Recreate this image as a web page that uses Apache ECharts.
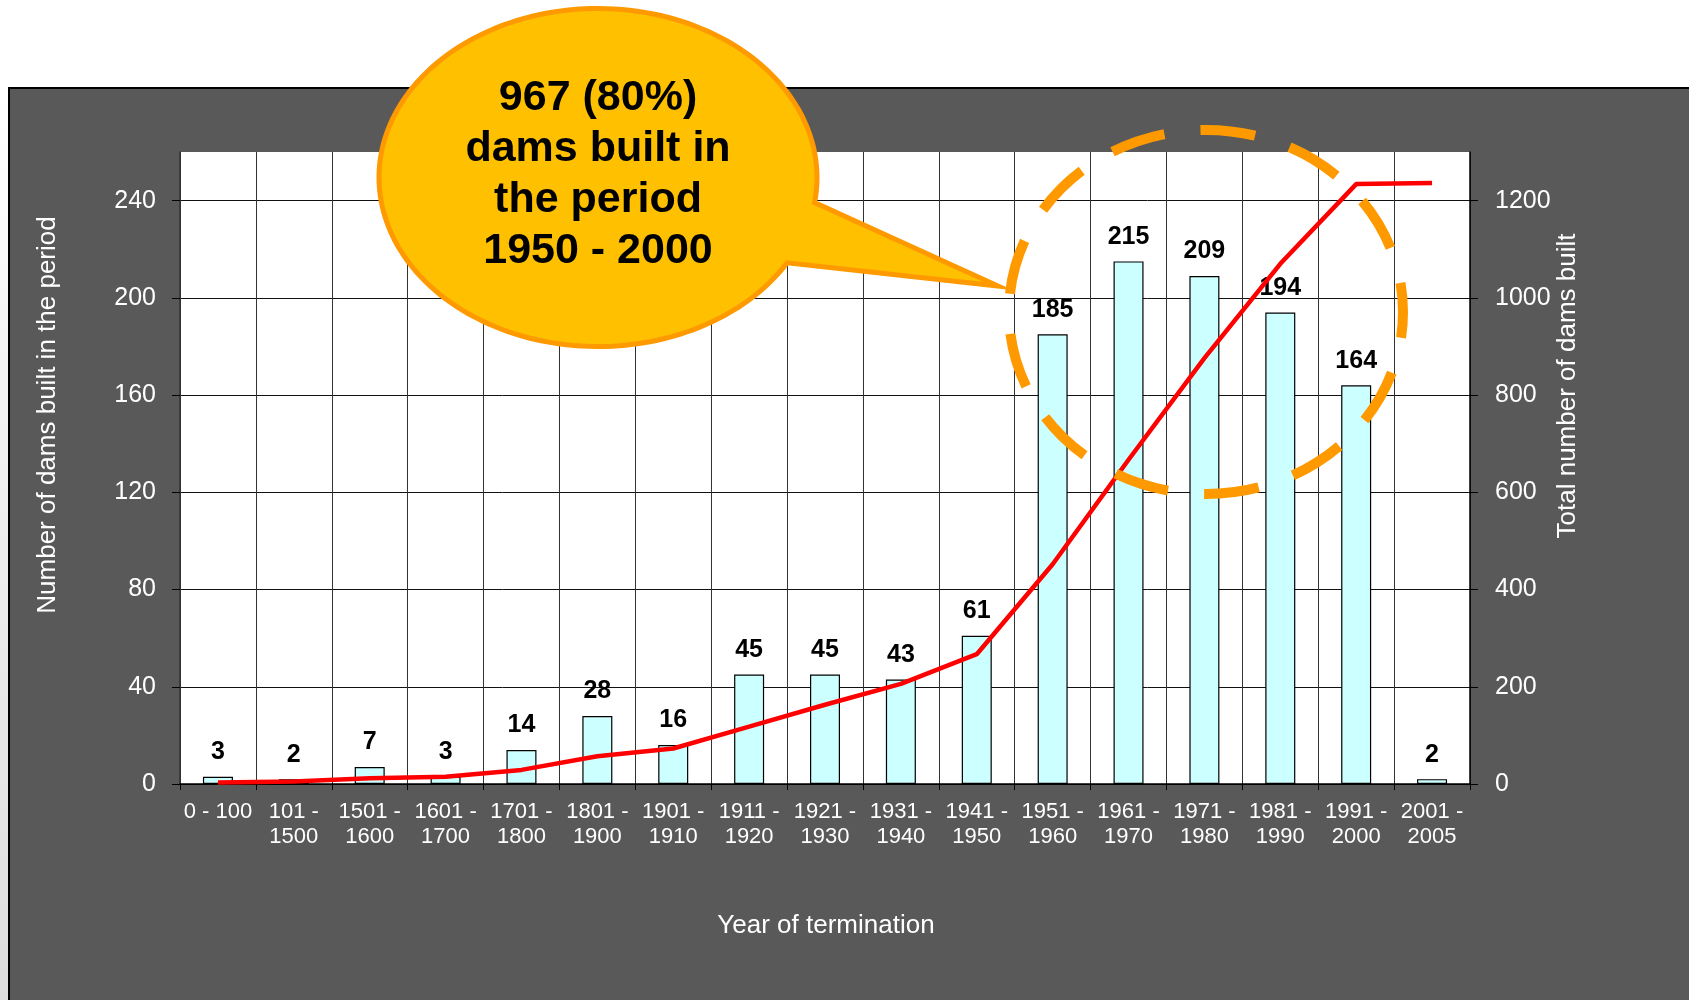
<!DOCTYPE html>
<html>
<head>
<meta charset="utf-8">
<title>Dams built per period</title>
<script src="https://cdn.jsdelivr.net/npm/echarts@6/dist/echarts.min.js"></script>
<style>
  html, body { margin: 0; padding: 0; background: #fff; }
  #chart { width: 1689px; height: 1000px; }
</style>
</head>
<body>
<div id="chart"></div>
<script>
  // periods (year of termination)
  const categories = ['0 - 100', '101 -\n1500', '1501 -\n1600', '1601 -\n1700', '1701 -\n1800',
    '1801 -\n1900', '1901 -\n1910', '1911 -\n1920', '1921 -\n1930', '1931 -\n1940', '1941 -\n1950',
    '1951 -\n1960', '1961 -\n1970', '1971 -\n1980', '1981 -\n1990', '1991 -\n2000', '2001 -\n2005']
  // dams built in each period (bars)
  const damsPerPeriod = [3, 2, 7, 3, 14, 28, 16, 45, 45, 43, 61, 185, 215, 209, 194, 164, 2]
  // running total of dams built (red line, right axis)
  const totalDams = [3, 5, 12, 15, 29, 57, 73, 118, 163, 206, 267, 452, 667, 876, 1070, 1234, 1236]
  // callout text
  const calloutLines = ['967 (80%)', 'dams built in', 'the period', '1950 - 2000']

  const FONT = "'Liberation Sans', Arial, Helvetica, sans-serif"

  let myChart = echarts.init(document.getElementById('chart'))

  // speech bubble outline: ellipse with a pointed tail to the right
  let bubble = []
  let bx = 598, by = 177.5, brx = 219, bry = 169
  let a0 = 30.3, a1 = 368.5
  for (let a = a0; a < a1; a += 2) {
    let r = a * Math.PI / 180
    bubble.push([bx + brx * Math.cos(r), by + bry * Math.sin(r)])
  }
  bubble.push([bx + brx * Math.cos(a1 * Math.PI / 180), by + bry * Math.sin(a1 * Math.PI / 180)])
  bubble.push([998, 286])

  let option = {
    animation: false,
    backgroundColor: '#ffffff',
    grid: {
      left: 180,
      right: 219,
      top: 152,
      bottom: 216,
      show: true,
      backgroundColor: '#ffffff',
      borderWidth: 0,
      outerBoundsMode: 'none'
    },
    xAxis: {
      type: 'category',
      data: categories,
      boundaryGap: true,
      axisLine: { show: true, lineStyle: { color: '#000', width: 1.5 } },
      axisTick: { show: true, length: 6, alignWithLabel: false, lineStyle: { color: '#000' } },
      splitLine: { show: true, lineStyle: { color: '#333', width: 1 } },
      axisLabel: {
        interval: 0,
        color: '#ffffff',
        fontFamily: FONT,
        fontSize: 22,
        lineHeight: 25,
        margin: 15
      }
    },
    yAxis: [
      {
        type: 'value',
        min: 0,
        max: 260,
        interval: 40,
        axisLine: { show: true, lineStyle: { color: '#333', width: 1.5 } },
        axisTick: { show: true, length: 8, lineStyle: { color: '#000' } },
        splitLine: { show: true, showMaxLine: false, lineStyle: { color: '#111', width: 1 } },
        axisLabel: {
          showMaxLabel: false,
          color: '#ffffff',
          fontFamily: FONT,
          fontSize: 25,
          margin: 24
        }
      },
      {
        type: 'value',
        min: 0,
        max: 1300,
        interval: 200,
        position: 'right',
        axisLine: { show: true, lineStyle: { color: '#000', width: 1.5 } },
        axisTick: { show: true, length: 8, lineStyle: { color: '#000' } },
        splitLine: { show: false },
        axisLabel: {
          showMaxLabel: false,
          color: '#ffffff',
          fontFamily: FONT,
          fontSize: 25,
          margin: 25,
          formatter: (v) => String(v)
        }
      }
    ],
    series: [
      {
        name: 'Number of dams built in the period',
        type: 'bar',
        data: damsPerPeriod,
        barWidth: 30,
        itemStyle: { color: '#CCFFFF', borderColor: '#000', borderWidth: 1.2 },
        label: {
          show: true,
          position: 'top',
          distance: 12,
          color: '#000',
          fontFamily: FONT,
          fontWeight: 'bold',
          fontSize: 25
        },
        z: 3
      },
      {
        name: 'Total number of dams built',
        type: 'line',
        yAxisIndex: 1,
        data: totalDams,
        symbol: 'none',
        lineStyle: { color: '#FF0000', width: 4.5 },
        itemStyle: { color: '#FF0000' },
        z: 4
      }
    ],
    graphic: [
      // light strip left of the panel
      {
        type: 'rect',
        z: -20,
        shape: { x: 0, y: 88, width: 10, height: 912 },
        style: {
          fill: new echarts.graphic.LinearGradient(0, 0, 0, 1, [
            { offset: 0, color: '#ffffff' },
            { offset: 1, color: '#dcdcdc' }
          ])
        },
        silent: true
      },
      // dark panel
      {
        type: 'rect',
        z: -10,
        shape: { x: 9, y: 88, width: 1690, height: 930 },
        style: { fill: '#595959', stroke: '#000', lineWidth: 2 },
        silent: true
      },
      // axis titles
      {
        type: 'text',
        x: 48,
        y: 415,
        rotation: Math.PI / 2,
        z: 5,
        style: {
          text: 'Number of dams built in the period',
          fill: '#ffffff',
          font: '26px ' + FONT,
          textAlign: 'center',
          textVerticalAlign: 'middle'
        },
        silent: true
      },
      {
        type: 'text',
        x: 1568,
        y: 386,
        rotation: Math.PI / 2,
        z: 5,
        style: {
          text: 'Total number of dams built',
          fill: '#ffffff',
          font: '26px ' + FONT,
          textAlign: 'center',
          textVerticalAlign: 'middle'
        },
        silent: true
      },
      {
        type: 'text',
        x: 826,
        y: 926,
        z: 5,
        style: {
          text: 'Year of termination',
          fill: '#ffffff',
          font: '26px ' + FONT,
          textAlign: 'center',
          textVerticalAlign: 'middle'
        },
        silent: true
      },
      // dashed highlight round 1951 - 2000
      {
        type: 'ellipse',
        z: 90,
        shape: { cx: 1206, cy: 312, rx: 197, ry: 182 },
        style: {
          fill: null,
          stroke: '#FF9900',
          lineWidth: 10,
          lineDash: [55, 36.3],
          lineDashOffset: 73
        },
        silent: true
      },
      // callout bubble
      {
        type: 'polygon',
        z: 100,
        shape: { points: bubble },
        style: { fill: '#FFC000', stroke: '#FF9900', lineWidth: 5, lineJoin: 'miter' },
        silent: true
      },
      {
        type: 'text',
        x: 598,
        y: 175,
        z: 101,
        style: {
          text: calloutLines.join('\n'),
          fill: '#000',
          font: 'bold 43px ' + FONT,
          lineHeight: 51,
          textAlign: 'center',
          textVerticalAlign: 'middle'
        },
        silent: true
      }
    ]
  }

  myChart.setOption(option)
</script>
</body>
</html>
